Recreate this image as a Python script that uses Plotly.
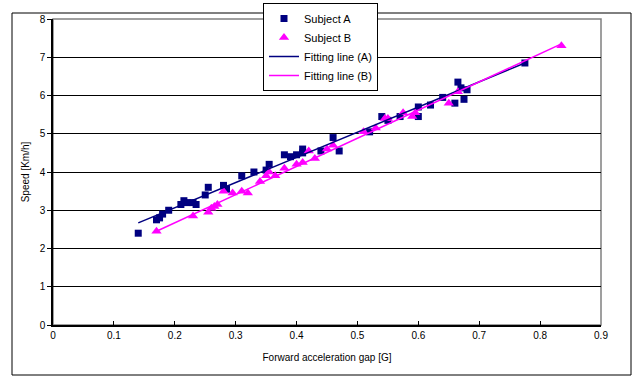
import plotly.graph_objects as go

# Subject A data
a_x = [0.14, 0.17, 0.175, 0.18, 0.19, 0.21, 0.215, 0.22, 0.23, 0.235, 0.25, 0.255,
       0.28, 0.285, 0.31, 0.33, 0.35, 0.355, 0.38, 0.39, 0.40, 0.41, 0.41, 0.44,
       0.46, 0.47, 0.52, 0.54, 0.55, 0.57, 0.60, 0.60, 0.62, 0.64, 0.66, 0.665,
       0.67, 0.675, 0.68, 0.775]
a_y = [2.4, 2.75, 2.8, 2.9, 3.0, 3.15, 3.25, 3.2, 3.2, 3.15, 3.4, 3.6,
       3.65, 3.55, 3.9, 4.0, 4.05, 4.2, 4.45, 4.4, 4.45, 4.6, 4.5, 4.55,
       4.9, 4.55, 5.05, 5.45, 5.35, 5.45, 5.45, 5.7, 5.75, 5.95, 5.8, 6.35,
       6.2, 5.9, 6.15, 6.85]

# Subject B data
b_x = [0.17, 0.23, 0.255, 0.26, 0.265, 0.27, 0.28, 0.295, 0.31, 0.32, 0.34, 0.35,
       0.355, 0.365, 0.38, 0.40, 0.41, 0.42, 0.43, 0.45, 0.46, 0.51, 0.53, 0.545,
       0.55, 0.575, 0.59, 0.595, 0.65, 0.665, 0.835]
b_y = [2.45, 2.85, 2.95, 3.05, 3.1, 3.15, 3.5, 3.45, 3.5, 3.45, 3.75, 3.9,
       4.0, 3.9, 4.1, 4.2, 4.25, 4.55, 4.35, 4.6, 4.7, 5.05, 5.15, 5.4,
       5.4, 5.55, 5.45, 5.55, 5.8, 6.1, 7.3]

# Fitting line endpoints
fit_a_x = [0.14, 0.775]
fit_a_y = [2.67, 6.85]
fit_b_x = [0.17, 0.835]
fit_b_y = [2.45, 7.35]

x_ticks = [0, 0.1, 0.2, 0.3, 0.4, 0.5, 0.6, 0.7, 0.8, 0.9]
x_tick_labels = ["0", "0.1", "0.2", "0.3", "0.4", "0.5", "0.6", "0.7", "0.8", "0.9"]
y_ticks = [0, 1, 2, 3, 4, 5, 6, 7, 8]

NAVY = "#000080"
MAGENTA = "#FF00FF"

fig = go.Figure()
fig.add_trace(go.Scatter(x=a_x, y=a_y, mode="markers", name="Subject A",
                         marker=dict(symbol="square", size=7, color=NAVY)))
fig.add_trace(go.Scatter(x=b_x, y=b_y, mode="markers", name="Subject B",
                         marker=dict(symbol="triangle-up", size=9, color=MAGENTA)))
fig.add_trace(go.Scatter(x=fit_a_x, y=fit_a_y, mode="lines", name="Fitting line (A)",
                         line=dict(color=NAVY, width=1.5)))
fig.add_trace(go.Scatter(x=fit_b_x, y=fit_b_y, mode="lines", name="Fitting line (B)",
                         line=dict(color=MAGENTA, width=1.5)))

L, R, T, B = 53, 36, 19, 51
W, H = 637, 376
pw, ph = W - L - R, H - T - B

def px_x(p):
    return (p - L) / pw

def px_y(p):
    return (H - B - p) / ph

fig.update_layout(
    width=W, height=H,
    margin=dict(l=L, r=R, t=T, b=B, autoexpand=False),
    paper_bgcolor="white", plot_bgcolor="white",
    font=dict(family="Arial, Liberation Sans, sans-serif", size=10, color="black"),
    showlegend=True,
    legend=dict(x=px_x(263), y=px_y(3), xanchor="left", yanchor="top",
                bgcolor="white", bordercolor="black", borderwidth=1,
                font=dict(size=11), tracegroupgap=0, itemwidth=30),
    xaxis=dict(range=[0, 0.9], tickvals=x_ticks, ticktext=x_tick_labels,
               showgrid=False, zeroline=False, showline=True, linecolor="black",
               linewidth=1.5, ticks="inside", ticklen=4, tickcolor="black",
               title=dict(text="Forward acceleration gap [G]", font=dict(size=10), standoff=14)),
    yaxis=dict(range=[0, 8], tickvals=y_ticks, showgrid=True, gridcolor="black",
               gridwidth=1, zeroline=False, showline=True, linecolor="black",
               linewidth=1.5, ticks="outside", ticklen=4, tickcolor="black",
               title=dict(text="Speed [Km/h]", font=dict(size=10), standoff=8)),
    shapes=[
        dict(type="rect", xref="paper", yref="paper", x0=0, x1=1, y0=0, y1=1,
             line=dict(color="#808080", width=1.5), layer="below"),
        dict(type="rect", xref="paper", yref="paper",
             x0=px_x(12), x1=px_x(631), y0=px_y(375), y1=px_y(13),
             line=dict(color="black", width=1), layer="below"),
    ],
)

fig.write_html("out.html")
